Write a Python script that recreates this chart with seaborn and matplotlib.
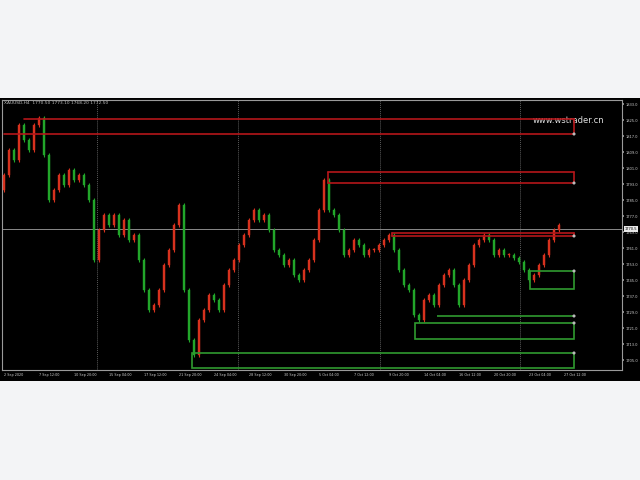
import matplotlib
matplotlib.use("Agg")
import matplotlib.pyplot as plt
import matplotlib.patches as mpatches
import seaborn as sns
import numpy as np

# ---- data ----
closes = [1797.5, 1810, 1805, 1822.5, 1815, 1810, 1822.5, 1826, 1807.5, 1785,
          1790, 1797.5, 1792.5, 1800, 1795, 1797.5, 1792.5, 1785, 1755, 1770,
          1777.5, 1772.5, 1777.5, 1767.5, 1775, 1765, 1767.5, 1755, 1740, 1730,
          1732.5, 1740, 1752.5, 1760, 1772.5, 1782.5, 1740, 1715, 1707.5, 1725,
          1730, 1737.5, 1735, 1730, 1742.5, 1750, 1755, 1762.5, 1767.5, 1775,
          1780, 1775, 1777.5, 1770, 1760, 1757.5, 1752.5, 1755, 1747.5, 1745,
          1750, 1755, 1765, 1780, 1795, 1780, 1777.5, 1770, 1757.5, 1760,
          1765, 1762.5, 1757.5, 1760, 1760, 1762.5, 1765, 1767.5, 1760, 1750,
          1742.5, 1740, 1727.5, 1725, 1735, 1737.5, 1732.5, 1742.5, 1747.5, 1750,
          1742.5, 1732.5, 1745, 1752.5, 1762.5, 1765, 1767.5, 1765, 1757.5, 1760,
          1757.5, 1757.5, 1756, 1754, 1750, 1745, 1747.5, 1752.5, 1757.5, 1765,
          1770, 1772.5]
first_open = 1790.0

# resistance (red) zones: (start of upper line, upper, lower, start of lower line)
red_zones = [(4, 1825.5, 1818.0, 0), (64.8, 1799.0, 1793.5, 64.8), (77.6, 1768.5, 1767.0, 77.6)]
# support (green) zones: (start index, upper, lower)
green_zones = [(105.2, 1749.5, 1740.5), (86.6, 1727.0, 1727.0), (82.2, 1723.5, 1715.5), (37.6, 1708.5, 1701.0)]
zone_end = 114.0
current_price = 1770.5

y_ticks = [1833, 1825, 1817, 1809, 1801, 1793, 1785, 1777, 1769, 1761, 1753, 1745, 1737, 1729, 1721, 1713, 1705]
x_labels = ["2 Sep 2020", "7 Sep 12:00", "10 Sep 20:00", "15 Sep 04:00", "17 Sep 12:00", "21 Sep 20:00",
            "24 Sep 04:00", "28 Sep 12:00", "30 Sep 20:00", "5 Oct 04:00", "7 Oct 12:00", "9 Oct 20:00",
            "14 Oct 04:00", "16 Oct 12:00", "20 Oct 20:00", "23 Oct 04:00", "27 Oct 12:00"]

# ---- style ----
sns.set_theme(style="dark")
plt.rcParams['font.family'] = ['DejaVu Sans']

fig = plt.figure(figsize=(6.4, 4.8), dpi=100)
fig.patch.set_facecolor("#f3f4f6")
# black terminal panel
fig.add_artist(mpatches.Rectangle((0, 1 - 381 / 480), 1, 283 / 480, transform=fig.transFigure,
                                  facecolor="black", edgecolor="none", zorder=0))

ax = fig.add_axes([2 / 640, 1 - 370 / 480, 620 / 640, 270 / 480])
ax.set_facecolor("black")
for s in ax.spines.values():
    s.set_color("#9a9a9a")
    s.set_linewidth(0.8)

n = len(closes)
opens = [first_open] + closes[:-1]
xs = np.arange(n)
red_c = "#d8321e"
green_c = "#22a62a"
for i in range(n):
    o, c = opens[i], closes[i]
    col = red_c if c >= o else green_c
    hi, lo = max(o, c) + 1.2, min(o, c) - 1.2
    ax.vlines(xs[i], lo, hi, color=col, linewidth=0.8, zorder=3)
    ax.bar(xs[i], max(abs(c - o), 0.4), bottom=min(o, c), width=0.45, color=col,
           edgecolor=col, linewidth=0.3, zorder=3)

# grid
for gx in [18.6, 46.8, 75.2, 103.2]:
    ax.axvline(gx, color="#5a5a5a", linewidth=0.7, linestyle=(0, (1, 1)), zorder=1)
ax.axhline(current_price, color="#8a8a8a", linewidth=0.7, zorder=1)

# red zones
red_line = "#b5161a"
for start, up, lo, start_lo in red_zones:
    ax.plot([start, zone_end], [up, up], color=red_line, linewidth=1.2, zorder=4)
    ax.plot([start_lo, zone_end], [lo, lo], color=red_line, linewidth=1.2, zorder=4)
    ax.plot([zone_end, zone_end], [lo, up], color=red_line, linewidth=1.2, zorder=4)
    if start_lo == start:
        ax.plot([start, start], [lo, up], color=red_line, linewidth=1.2, zorder=4)

# green zones
green_line = "#2f9a2f"
for start, up, lo in green_zones:
    ax.add_patch(mpatches.Rectangle((start, lo), zone_end - start, up - lo, fill=False,
                                    edgecolor=green_line, linewidth=1.2, zorder=4))

# small price-label markers at the right end of each zone
sns.scatterplot(x=[zone_end] * 3, y=[r[2] for r in red_zones], ax=ax, s=5, color="#bbbbbb",
                edgecolor="none", zorder=5, legend=False)
sns.scatterplot(x=[zone_end] * 4, y=[g[1] for g in green_zones], ax=ax, s=5, color="#bbbbbb",
                edgecolor="none", zorder=5, legend=False)

ax.set_xlim(-0.4, 123.6)
ax.set_ylim(1700, 1835)

# right axis labels
ax.yaxis.tick_right()
ax.set_yticks(y_ticks)
ax.set_yticklabels([f"{v:.1f}" for v in y_ticks], fontsize=2.6, color="#cfcfcf")
ax.tick_params(axis="y", length=1.5, color="#9a9a9a", pad=0.8)
# current price tag
ax.text(1.004, (current_price - 1700) / 135, f"{current_price:.1f}", transform=ax.transAxes,
        fontsize=2.6, color="black", va="center", ha="left",
        bbox=dict(boxstyle="square,pad=0.15", facecolor="#e8e8e8", edgecolor="none"))

ax.set_xticks(np.linspace(0, 112, len(x_labels)))
ax.set_xticklabels(x_labels, fontsize=2.4, color="#cfcfcf", ha="left")
ax.tick_params(axis="x", length=1.5, color="#9a9a9a", pad=1)
ax.grid(False)

# header and watermark
ax.text(0.003, 0.995, "XAUUSD,H4  1770.50 1773.10 1768.20 1772.50", transform=ax.transAxes,
        fontsize=3.2, color="#bdbdbd", ha="left", va="top")
ax.text(0.972, 0.925, "www.wstrader.cn", transform=ax.transAxes, fontsize=6,
        color="#e0e0e0", ha="right", va="center")

fig.savefig("out.png", dpi=100, facecolor=fig.get_facecolor())
